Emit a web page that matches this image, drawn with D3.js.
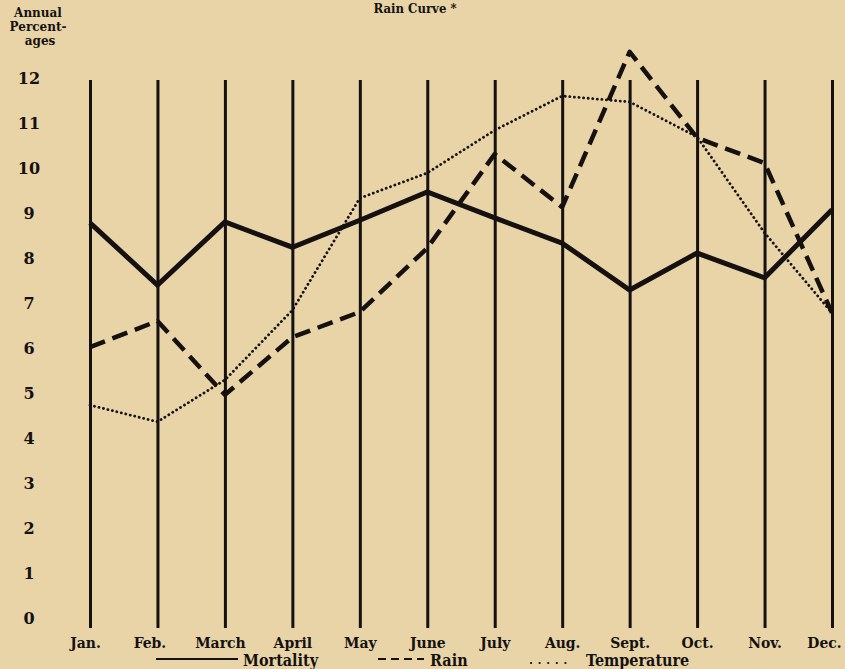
<!DOCTYPE html>
<html>
<head>
<meta charset="utf-8">
<script src="https://cdn.jsdelivr.net/npm/d3@7"></script>
<style>
  html, body { margin: 0; padding: 0; background: #e9d4a8; }
  svg { display: block; }
  text { font-family: "DejaVu Serif", "Liberation Serif", serif; font-weight: bold; fill: #141110; }
</style>
</head>
<body>
<div id="chart"></div>
<script>
// Chart size.
var width = 845;
var height = 669;

// Data (annual percentages per month).
var months = ["Jan.", "Feb.", "March", "April", "May", "June", "July", "Aug.", "Sept.", "Oct.", "Nov.", "Dec."];
var mortality = [8.78, 7.4, 8.8, 8.24, 8.84, 9.47, 8.89, 8.33, 7.29, 8.11, 7.56, 9.07];
var rain = [6.02, 6.6, 4.96, 6.24, 6.8, 8.22, 10.31, 9.13, 12.58, 10.67, 10.11, 6.78];
var temperature = [4.73, 4.36, 5.29, 6.84, 9.33, 9.89, 10.84, 11.6, 11.47, 10.69, 8.56, 6.78];
var yTicks = [0, 1, 2, 3, 4, 5, 6, 7, 8, 9, 10, 11, 12];

var ink = "#141110";
var condensed = "\"DejaVu Serif Condensed\", \"DejaVu Serif\", serif";

var svg = d3.select("#chart").append("svg")
    .attr("width", width)
    .attr("height", height);

var x = d3.scalePoint()
    .domain(months)
    .range([90, 832]);

var y = d3.scaleLinear()
    .domain([0, 12])
    .range([618, 78]);

// Title, near the top edge
svg.append("text")
    .attr("x", 415)
    .attr("y", 13)
    .attr("text-anchor", "middle")
    .style("font-family", condensed)
    .style("font-size", "13px")
    .text("Rain Curve *");

// y axis caption
var cap = svg.append("text")
    .attr("text-anchor", "middle")
    .style("font-size", "12px");
cap.append("tspan").attr("x", 38).attr("y", 17).text("Annual");
cap.append("tspan").attr("x", 38).attr("y", 31).text("Percent-");
cap.append("tspan").attr("x", 40).attr("y", 45).text("ages");

// y tick labels
svg.append("g")
    .selectAll("text")
    .data(yTicks)
    .enter().append("text")
    .attr("x", 29)
    .attr("y", function(d) { return y(d); })
    .attr("dy", "0.35em")
    .attr("text-anchor", "middle")
    .style("font-size", "16px")
    .text(function(d) { return d; });

// month axis: ticks drawn upward form the vertical rules
var xAxis = svg.append("g")
    .attr("transform", "translate(0,628)")
    .call(d3.axisBottom(x).tickSizeInner(-548).tickSizeOuter(0).tickPadding(9));
xAxis.select(".domain").remove();
xAxis.selectAll(".tick line")
    .attr("stroke", ink)
    .attr("stroke-width", 3);
xAxis.selectAll(".tick text")
    .attr("fill", ink)
    .attr("dx", function(d) { return d === "Dec." ? -8 : (d === "Jan." ? -5 : (d === "Feb." ? -8 : (d === "March" ? -5 : 0))); })
    .style("font-family", condensed)
    .style("font-weight", "bold")
    .style("font-size", "15.5px");

var line = d3.line()
    .x(function(d, i) { return x(months[i]); })
    .y(function(d) { return y(d); });

svg.append("path")
    .datum(temperature)
    .attr("d", line)
    .attr("fill", "none")
    .attr("stroke", ink)
    .attr("stroke-width", 2.8)
    .attr("stroke-linecap", "round")
    .attr("stroke-dasharray", "0.1,4.5");

svg.append("path")
    .datum(rain)
    .attr("d", line)
    .attr("fill", "none")
    .attr("stroke", ink)
    .attr("stroke-width", 4.5)
    .attr("stroke-linejoin", "round")
    .attr("stroke-dasharray", "16,8");

svg.append("path")
    .datum(mortality)
    .attr("d", line)
    .attr("fill", "none")
    .attr("stroke", ink)
    .attr("stroke-width", 5)
    .attr("stroke-linejoin", "miter");

// Legend
var legend = svg.append("g");
legend.append("line")
    .attr("x1", 156).attr("x2", 238).attr("y1", 659).attr("y2", 659)
    .attr("stroke", ink).attr("stroke-width", 1.8);
legend.append("text")
    .attr("x", 243).attr("y", 666)
    .style("font-family", condensed)
    .style("font-size", "16px")
    .text("Mortality");
legend.append("line")
    .attr("x1", 378).attr("x2", 424).attr("y1", 659).attr("y2", 659)
    .attr("stroke", ink).attr("stroke-width", 1.8)
    .attr("stroke-dasharray", "8,5");
legend.append("text")
    .attr("x", 430).attr("y", 666)
    .style("font-family", condensed)
    .style("font-size", "16px")
    .text("Rain");
legend.append("line")
    .attr("x1", 531).attr("x2", 566).attr("y1", 663).attr("y2", 663)
    .attr("stroke", ink).attr("stroke-width", 2.2)
    .attr("stroke-linecap", "round")
    .attr("stroke-dasharray", "0.1,8.5");
legend.append("text")
    .attr("x", 586).attr("y", 666)
    .style("font-family", condensed)
    .style("font-size", "16px")
    .text("Temperature");
</script>
</body>
</html>
